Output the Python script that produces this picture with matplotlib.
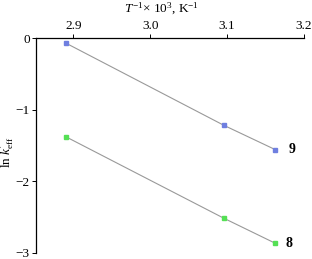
import matplotlib.pyplot as plt

plt.rcParams['font.family'] = ['Liberation Serif', 'DejaVu Serif']
plt.rcParams['mathtext.fontset'] = 'custom'
plt.rcParams['mathtext.rm'] = 'Liberation Serif'
plt.rcParams['mathtext.it'] = 'Liberation Serif:italic'

inv_t = [2.890, 3.096, 3.163]
ln_k_9 = [-0.07, -1.22, -1.56]
ln_k_8 = [-1.38, -2.52, -2.87]
series_labels = ["9", "8"]

fig = plt.figure(figsize=(3.12, 2.59), dpi=100)
ax = fig.add_axes([0.115, 0.025, 0.858, 0.828])

ax.plot(inv_t, ln_k_9, color='#999999', lw=0.8, marker='s', ms=3.5,
        mfc='#6f7fe0', mec='#6f7fe0', zorder=3)
ax.plot(inv_t, ln_k_8, color='#999999', lw=0.8, marker='s', ms=3.5,
        mfc='#55e055', mec='#55e055', zorder=3)

ax.text(inv_t[-1] + 0.017, ln_k_9[-1], series_labels[0], fontsize=10,
        fontweight='bold', va='center', ha='left')
ax.text(inv_t[-1] + 0.014, ln_k_8[-1], series_labels[1], fontsize=10,
        fontweight='bold', va='center', ha='left')

ax.set_xlim(2.851, 3.2)
ax.set_ylim(-3, 0)
ax.xaxis.tick_top()
ax.xaxis.set_label_position('top')
ax.set_xticks([2.9, 3.0, 3.1, 3.2])
ax.set_xticklabels(['2.9', '3.0', '3.1', '3.2'])
ax.set_yticks([0, -1, -2, -3])
ax.set_yticklabels(['0', '\u22121', '\u22122', '\u22123'])
ax.spines['bottom'].set_visible(False)
ax.spines['right'].set_visible(False)
for s in ('top', 'left'):
    ax.spines[s].set_linewidth(0.9)
ax.tick_params(axis='both', direction='out', length=3, width=0.7,
               labelsize=9.5, pad=1.5)
ax.set_xlabel("$T^{-1}$\u00d7 10$^3$, K$^{-1}$", fontsize=9.5)
ax.set_ylabel(r"ln $k^{\prime}_{\mathrm{eff}}$", fontsize=9.5)
ax.xaxis.set_label_coords(0.47, 1.12)
ax.yaxis.set_label_coords(-0.07, 0.47)

fig.savefig('out.png', dpi=100)
